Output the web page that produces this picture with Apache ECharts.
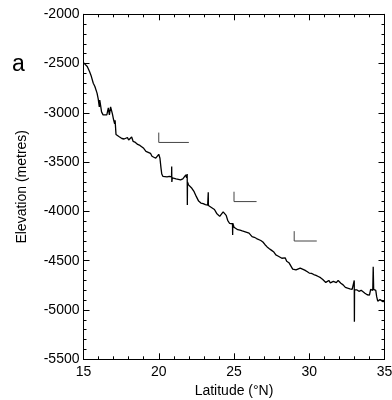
<!DOCTYPE html>
<html>
<head>
<meta charset="utf-8">
<script src="https://cdn.jsdelivr.net/npm/echarts@6/dist/echarts.min.js"></script>
<style>html,body{margin:0;padding:0;background:#fff}#c{width:392px;height:400px}</style>
</head>
<body>
<div id="c"></div>
<script>
// Profile: latitude (°N) and elevation (m)
const latitude = [
15.00,15.10,15.25,15.40,15.50,15.65,15.75,15.90,15.98,16.05,16.08,16.14,16.20,16.30,16.42,16.55,16.65,16.72,16.80,16.86,16.92,17.00,17.07,17.10,17.16,17.25,17.35,17.45,17.55,17.70,17.80,17.92,18.00,18.10,18.20,18.30,18.45,18.60,18.75,18.85,19.00,19.15,19.30,19.45,19.55,19.68,19.80,19.90,20.00,20.08,20.15,20.20,20.28,20.40,20.55,20.70,20.80,20.85,20.86,20.87,20.90,21.00,21.15,21.30,21.45,21.60,21.72,21.80,21.85,21.88,21.89,21.90,21.91,21.98,22.10,22.20,22.35,22.50,22.65,22.80,22.95,23.10,23.25,23.28,23.29,23.30,23.40,23.55,23.70,23.85,23.95,24.05,24.15,24.28,24.38,24.48,24.58,24.70,24.82,24.90,24.91,24.92,25.00,25.10,25.25,25.40,25.55,25.70,25.85,26.00,26.10,26.20,26.35,26.50,26.62,26.78,26.92,27.05,27.20,27.35,27.50,27.65,27.78,27.92,28.05,28.18,28.30,28.40,28.50,28.65,28.78,28.90,29.00,29.12,29.25,29.40,29.55,29.70,29.85,30.00,30.15,30.30,30.45,30.60,30.75,30.90,31.00,31.10,31.20,31.30,31.40,31.50,31.60,31.70,31.80,31.92,32.00,32.10,32.25,32.40,32.55,32.70,32.85,32.98,32.99,33.00,33.01,33.15,33.30,33.45,33.55,33.70,33.85,34.00,34.08,34.15,34.22,34.25,34.28,34.35,34.42,34.48,34.55,34.62,34.70,34.80,34.90,35.00
];
const elevation = [
-2490,-2500,-2530,-2580,-2620,-2700,-2730,-2800,-2860,-2940,-2870,-2930,-2990,-3020,-3000,-3020,-2950,-3020,-2940,-2920,-3010,-3070,-3110,-3075,-3220,-3200,-3240,-3230,-3260,-3265,-3275,-3250,-3275,-3270,-3245,-3290,-3300,-3320,-3330,-3350,-3360,-3390,-3400,-3410,-3440,-3460,-3460,-3440,-3420,-3460,-3560,-3620,-3645,-3640,-3650,-3645,-3655,-3650,-3545,-3700,-3660,-3665,-3670,-3675,-3680,-3670,-3660,-3630,-3660,-3650,-3620,-3935,-3700,-3730,-3750,-3765,-3800,-3850,-3895,-3915,-3920,-3930,-3935,-3935,-3805,-3940,-3950,-3965,-3980,-4020,-4040,-4050,-4030,-4005,-4020,-4040,-4090,-4120,-4130,-4125,-4238,-4120,-4160,-4175,-4185,-4190,-4198,-4205,-4212,-4220,-4230,-4255,-4262,-4275,-4290,-4295,-4310,-4335,-4360,-4378,-4395,-4412,-4440,-4452,-4462,-4475,-4465,-4470,-4505,-4520,-4540,-4585,-4590,-4593,-4580,-4575,-4585,-4595,-4610,-4625,-4628,-4640,-4648,-4660,-4672,-4690,-4702,-4720,-4715,-4700,-4725,-4728,-4710,-4715,-4722,-4700,-4715,-4728,-4745,-4770,-4778,-4785,-4790,-4790,-4700,-5120,-4795,-4795,-4810,-4800,-4808,-4830,-4845,-4848,-4790,-4780,-4800,-4560,-4790,-4785,-4800,-4865,-4910,-4900,-4895,-4905,-4915,-4912
];
// Scale bars (L-shaped markers)
const scaleBar1 = [[20, -3200], [20, -3300], [22, -3300]];
const scaleBar2 = [[25, -3800], [25, -3900], [26.5, -3900]];
const scaleBar3 = [[29, -4200], [29, -4300], [30.5, -4300]];
// Axis settings
const xMin = 15, xMax = 35, xStep = 5;
const yMin = -5500, yMax = -2000, yStep = 500;
const xName = 'Latitude (°N)';
const yName = 'Elevation (metres)';
const panelLabel = 'a';

const profile = latitude.map((v, i) => [v, elevation[i]]);
const font = 'Liberation Sans, Arial, Helvetica, sans-serif';
const plain = v => String(v);
const axisCommon = {
  axisLine: { show: true, lineStyle: { color: '#000', width: 1 } },
  axisTick: { show: true, inside: true, length: 6, lineStyle: { color: '#000', width: 1 } },
  minorTick: { show: true, splitNumber: 5, length: 3, lineStyle: { color: '#000', width: 1 } },
  splitLine: { show: false },
  minorSplitLine: { show: false }
};
const chart = echarts.init(document.getElementById('c'), null, { renderer: 'canvas' });
chart.setOption({
  animation: false,
  backgroundColor: '#fff',
  grid: { left: 83.5, right: 7.5, top: 14.3, bottom: 40.7, containLabel: false, outerBoundsMode: 'none' },
  graphic: [{
    type: 'text', left: 12, top: 53,
    style: { text: panelLabel, font: '23px ' + font, fill: '#000' }
  }],
  xAxis: [
    Object.assign({}, axisCommon, {
      type: 'value', min: xMin, max: xMax, interval: xStep, position: 'bottom',
      name: xName, nameLocation: 'middle', nameGap: 24,
      nameTextStyle: { fontFamily: font, fontSize: 14, color: '#000', verticalAlign: 'top' },
      axisLabel: { show: true, margin: 6, fontFamily: font, fontSize: 14, color: '#000', formatter: plain }
    }),
    Object.assign({}, axisCommon, {
      type: 'value', min: xMin, max: xMax, interval: xStep, position: 'top',
      axisLabel: { show: false }
    })
  ],
  yAxis: [
    Object.assign({}, axisCommon, {
      type: 'value', min: yMin, max: yMax, interval: yStep, position: 'left',
      name: yName, nameLocation: 'middle', nameGap: 54,
      nameTextStyle: { fontFamily: font, fontSize: 14, color: '#000' },
      axisLabel: { show: true, margin: 4, fontFamily: font, fontSize: 14, color: '#000', formatter: plain }
    }),
    Object.assign({}, axisCommon, {
      type: 'value', min: yMin, max: yMax, interval: yStep, position: 'right',
      axisLabel: { show: false }
    })
  ],
  series: [
    { type: 'line', data: profile, showSymbol: false, symbol: 'none', lineStyle: { color: '#000', width: 1.3 }, z: 3 },
    { type: 'line', data: scaleBar1, showSymbol: false, symbol: 'none', lineStyle: { color: '#444', width: 1 } },
    { type: 'line', data: scaleBar2, showSymbol: false, symbol: 'none', lineStyle: { color: '#444', width: 1 } },
    { type: 'line', data: scaleBar3, showSymbol: false, symbol: 'none', lineStyle: { color: '#444', width: 1 } }
  ]
});
</script>
</body>
</html>
